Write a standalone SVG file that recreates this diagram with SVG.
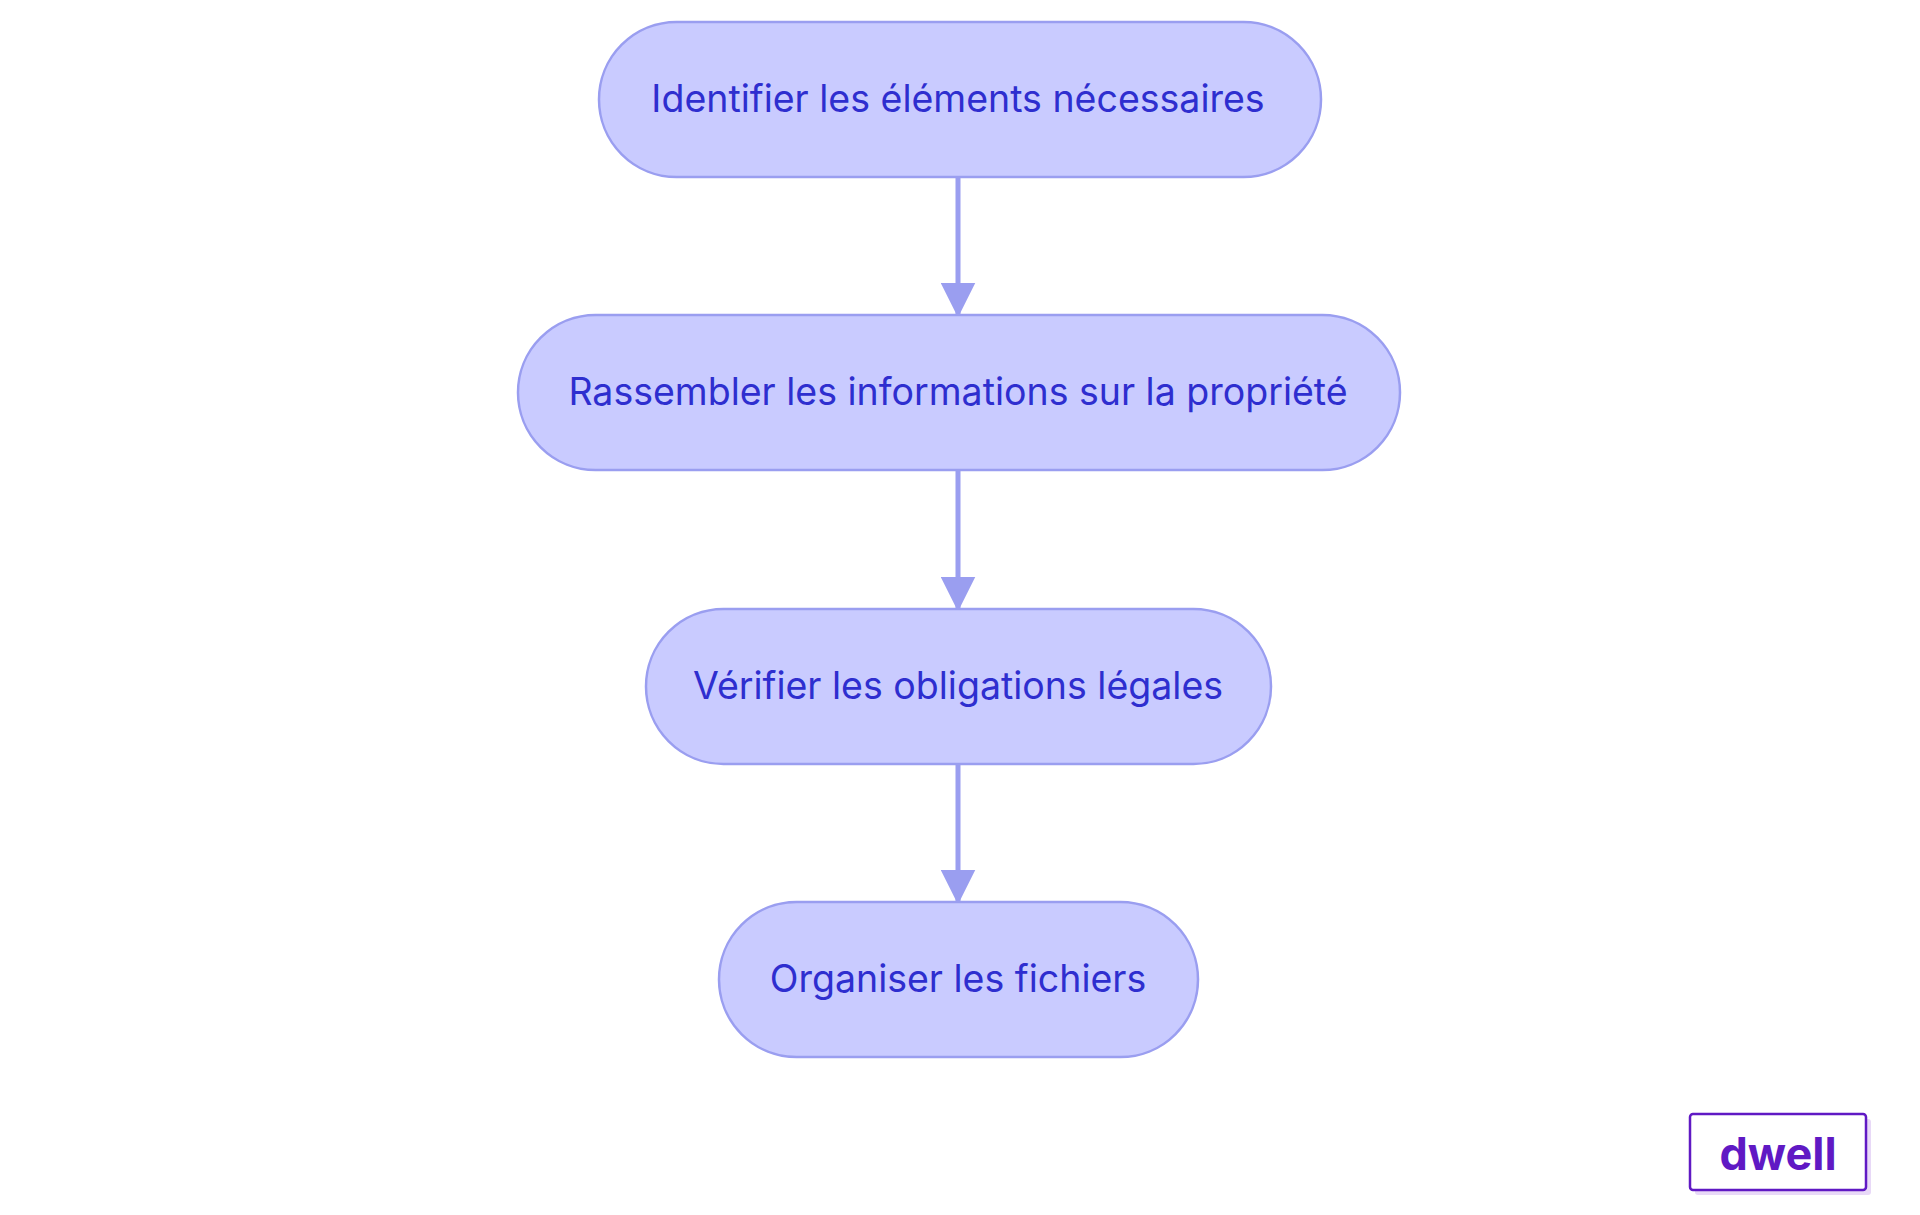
<svg xmlns="http://www.w3.org/2000/svg" width="1920" height="1215" viewBox="0 0 1920 1215">
<style>
.n{fill:#c9cbff;stroke:#9a9ef0;stroke-width:2.5}
.t{font-family:Inter,"Noto Sans",sans-serif;font-size:37.5px;fill:#2e2ecf;text-anchor:middle;dominant-baseline:central}
.e{stroke:#9a9ef0;stroke-width:5;fill:none}
</style>
<defs><marker id="a" markerWidth="7" markerHeight="7" refX="6.5" refY="3.5" orient="auto" markerUnits="strokeWidth"><path d="M0,0L7,3.5L0,7z" fill="#9a9ef0"/></marker></defs>
<rect width="1920" height="1215" fill="#fff"/>
<g id="edges">
<path class="e" d="M958,177V315" marker-end="url(#a)"/>
<path class="e" d="M958,470V609" marker-end="url(#a)"/>
<path class="e" d="M958,764V902" marker-end="url(#a)"/>
</g>
<g id="n1"><rect class="n" x="599" y="22" width="722" height="155" rx="77.5"/><text class="t" x="958" y="98">Identifier les éléments nécessaires</text></g>
<g id="n2"><rect class="n" x="518" y="315" width="882" height="155" rx="77.5"/><text class="t" x="958" y="391">Rassembler les informations sur la propriété</text></g>
<g id="n3"><rect class="n" x="646" y="609" width="625" height="155" rx="77.5"/><text class="t" x="958" y="685">Vérifier les obligations légales</text></g>
<g id="n4"><rect class="n" x="719" y="902" width="479" height="155" rx="77.5"/><text class="t" x="958" y="978">Organiser les fichiers</text></g>
<g id="logo">
<rect x="1695" y="1119" width="176" height="76" rx="3" fill="#e8d9f7"/>
<rect x="1690" y="1114" width="176" height="76" rx="3" fill="#fff" stroke="#6019c4" stroke-width="2.5"/>
<text x="1778" y="1153" font-family="Inter,'Noto Sans',sans-serif" font-weight="bold" font-size="45" fill="#6019c4" text-anchor="middle" dominant-baseline="central">dwell</text>
</g>
</svg>
